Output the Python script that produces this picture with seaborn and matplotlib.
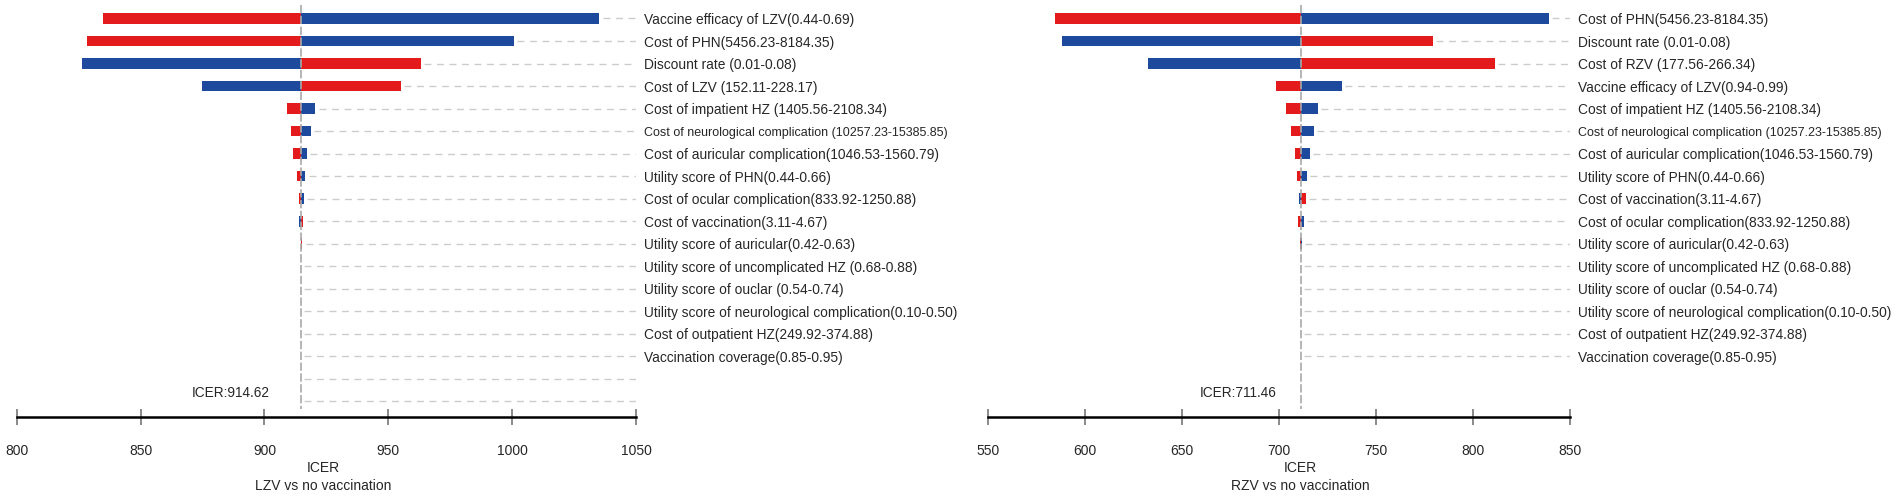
import numpy as np
import pandas as pd
import matplotlib.pyplot as plt
import seaborn as sns

sns.set_theme(style="white")
plt.rcParams['font.family'] = ['Liberation Sans', 'DejaVu Sans']

# LZV vs no vaccination
icer_lzv = 914.62
labels_lzv = [
    "Vaccine efficacy of LZV(0.44-0.69)",
    "Cost of PHN(5456.23-8184.35)",
    "Discount rate (0.01-0.08)",
    "Cost of LZV (152.11-228.17)",
    "Cost of impatient HZ (1405.56-2108.34)",
    "Cost of neurological complication (10257.23-15385.85)",
    "Cost of auricular complication(1046.53-1560.79)",
    "Utility score of PHN(0.44-0.66)",
    "Cost of ocular complication(833.92-1250.88)",
    "Cost of vaccination(3.11-4.67)",
    "Utility score of auricular(0.42-0.63)",
    "Utility score of uncomplicated HZ (0.68-0.88)",
    "Utility score of ouclar (0.54-0.74)",
    "Utility score of neurological complication(0.10-0.50)",
    "Cost of outpatient HZ(249.92-374.88)",
    "Vaccination coverage(0.85-0.95)",
]
red_lzv = [835.0, 828.5, 963.0, 955.0, 909.2, 910.6, 911.7, 913.0, 914.1, 915.6, 915.1,
           914.62, 914.62, 914.62, 914.62, 914.62]
blue_lzv = [1035.0, 1000.6, 826.4, 874.6, 920.6, 918.7, 917.0, 916.4, 915.8, 914.0, 914.62,
            914.62, 914.62, 914.62, 914.62, 914.62]

# RZV vs no vaccination
icer_rzv = 711.46
labels_rzv = [
    "Cost of PHN(5456.23-8184.35)",
    "Discount rate (0.01-0.08)",
    "Cost of RZV (177.56-266.34)",
    "Vaccine efficacy of LZV(0.94-0.99)",
    "Cost of impatient HZ (1405.56-2108.34)",
    "Cost of neurological complication (10257.23-15385.85)",
    "Cost of auricular complication(1046.53-1560.79)",
    "Utility score of PHN(0.44-0.66)",
    "Cost of vaccination(3.11-4.67)",
    "Cost of ocular complication(833.92-1250.88)",
    "Utility score of auricular(0.42-0.63)",
    "Utility score of uncomplicated HZ (0.68-0.88)",
    "Utility score of ouclar (0.54-0.74)",
    "Utility score of neurological complication(0.10-0.50)",
    "Cost of outpatient HZ(249.92-374.88)",
    "Vaccination coverage(0.85-0.95)",
]
red_rzv = [584.5, 779.4, 811.3, 698.3, 703.4, 706.3, 708.4, 709.1, 713.7, 709.6, 711.0,
           711.46, 711.46, 711.46, 711.46, 711.46]
blue_rzv = [839.1, 588.1, 632.4, 732.6, 720.1, 717.9, 715.8, 714.4, 710.3, 712.9, 711.9,
            711.46, 711.46, 711.46, 711.46, 711.46]

RED = "#e31b1c"
BLUE = "#1d4a9c"


def tornado(ax, labels, red, blue, base, xlim, xticks, title, n_extra, label_x, text_off):
    order = labels + [" " * (k + 1) for k in range(n_extra)]
    df = pd.DataFrame({"param": labels,
                       "red": np.array(red) - base,
                       "blue": np.array(blue) - base})
    for col, c in [("red", RED), ("blue", BLUE)]:
        sns.barplot(data=df, x=col, y="param", order=order, color=c, saturation=1,
                    width=0.48, errorbar=None, left=base, linewidth=0, ax=ax)

    # dashed guide lines from the end of each bar to the right edge
    ends = np.maximum(base, np.maximum(red, blue))
    ends = np.concatenate([ends, np.full(n_extra, base)])
    for i, e in enumerate(ends):
        ax.hlines(i, e + 1.5, xlim[1], colors="#cccccc", linewidth=1,
                  linestyles=(0, (5, 4)), zorder=0)
    ax.vlines(base, -0.6, 17.35, colors="#a8a8a8", linewidth=1.2,
              linestyles=(0, (5, 1.5)), zorder=3)
    ax.annotate("ICER:%.2f" % base, xy=(base, 16.65), xytext=(text_off, 0),
                textcoords="offset points", ha="right", va="center", fontsize=9.8)

    ax.set_xlim(*xlim)
    ax.set_ylim(17.7, -0.6)
    ax.set_xticks(xticks)
    ax.set_xticklabels([str(t) for t in xticks], fontsize=10)
    ax.tick_params(axis="x", direction="inout", length=11, width=1.2,
                   color="#777777", pad=14, bottom=True)
    ax.yaxis.tick_right()
    ax.tick_params(axis="y", length=0, pad=6, labelsize=9.9)
    for t in ax.get_yticklabels():
        if "neurological complication (" in t.get_text():
            t.set_fontsize(9.0)
    for s in ["top", "left", "right"]:
        ax.spines[s].set_visible(False)
    ax.spines["bottom"].set_color("black")
    ax.spines["bottom"].set_linewidth(1.8)
    ax.set_ylabel("")
    ax.set_xlabel("ICER\n" + title, fontsize=10, linespacing=1.3)
    ax.xaxis.set_label_coords(label_x, -0.108)
    ax.xaxis.label.set_va("top")


fig = plt.figure(figsize=(19.02, 4.98), dpi=100)
ax1 = fig.add_axes([0.0088, 0.1627, 0.3256, 0.8273])
ax2 = fig.add_axes([0.5196, 0.1627, 0.3058, 0.8273])

tornado(ax1, labels_lzv, red_lzv, blue_lzv, icer_lzv, (800, 1050),
        [800, 850, 900, 950, 1000, 1050], "LZV vs no vaccination", 2, 0.495, -22)
tornado(ax2, labels_rzv, red_rzv, blue_rzv, icer_rzv, (550, 850),
        [550, 600, 650, 700, 750, 800, 850], "RZV vs no vaccination", 0, 0.536, -18)

fig.savefig("out.png", dpi=100)
